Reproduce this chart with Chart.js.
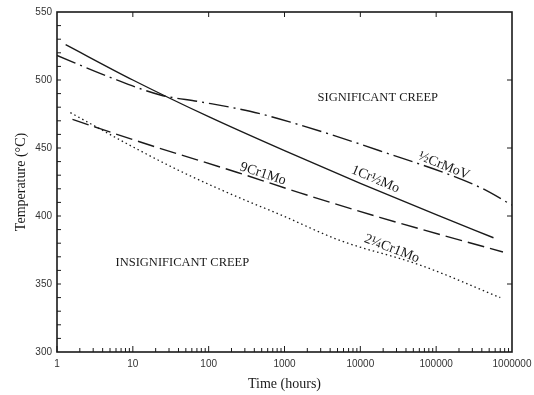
<!DOCTYPE html>
<html>
<head>
<meta charset="utf-8">
<script src="https://cdn.jsdelivr.net/npm/chart.js@4/dist/chart.umd.min.js"></script>
<style>
  html, body { margin: 0; padding: 0; background: #fff; }
  #wrap { width: 534px; height: 395px; }
</style>
</head>
<body>
<div id="wrap"><canvas id="chart" width="534" height="395"></canvas></div>
<script>
// values: time (hours) and temperature (°C)
const crMoVTime = [1, 5, 23, 77, 350, 1200, 18000, 380000, 1000000];
const crMoVTemp = [518, 502, 489, 484, 477, 469, 448, 421, 408];

const cr1MoTime = [1.3, 10, 100, 1000, 10000, 100000, 570000];
const cr1MoTemp = [526, 500, 473, 448, 424, 401, 384];

const cr9MoTime = [1.6, 17, 240, 1600, 18000, 760000];
const cr9MoTemp = [471, 452, 432, 417, 399, 373.5];

const cr2MoTime = [1.5, 12, 46, 240, 880, 5400, 61000, 700000];
const cr2MoTemp = [476, 448.5, 432, 414, 401, 382, 364, 340];

const xTicks = [1, 10, 100, 1000, 10000, 100000, 1000000];
const yTicks = [300, 350, 400, 450, 500, 550];

const pts = (xs, ys) => xs.map((v, i) => ({ x: v, y: ys[i] }));

// text written inside the plot
const notes = [
    { text: "SIGNIFICANT CREEP", x: 17000, y: 487, rot: 0, size: 12.5 },
    { text: "INSIGNIFICANT CREEP", x: 45, y: 366, rot: 0, size: 12.5 },
    { text: "9Cr1Mo", x: 520, y: 431, rot: 18, size: 14 },
    { text: "1Cr½Mo", x: 15800, y: 427, rot: 23, size: 14 },
    { text: "½CrMoV", x: 127000, y: 437, rot: 22, size: 14 },
    { text: "2¼Cr1Mo", x: 26000, y: 376, rot: 21, size: 14 }
];

const frameAndTicks = {
    id: "frameAndTicks",
    afterDraw(chart) {
        const { ctx, chartArea: a, scales: { x, y } } = chart;
        ctx.save();
        ctx.strokeStyle = "#1a1a1a";
        ctx.lineWidth = 1;
        ctx.beginPath();
        // bottom: minor ticks in each decade, decade ticks a bit taller
        for (let e = 0; e < 6; e++) {
            for (let m = 1; m <= 9; m++) {
                const px = x.getPixelForValue(m * Math.pow(10, e));
                const len = m === 1 ? 6 : 4;
                ctx.moveTo(px, a.bottom);
                ctx.lineTo(px, a.bottom - len);
            }
        }
        // top: decades only
        for (let e = 1; e < 6; e++) {
            const px = x.getPixelForValue(Math.pow(10, e));
            ctx.moveTo(px, a.top);
            ctx.lineTo(px, a.top + 5);
        }
        // left: every 10 degrees
        for (let t = 310; t < 550; t += 10) {
            const py = y.getPixelForValue(t);
            ctx.moveTo(a.left, py);
            ctx.lineTo(a.left + 4, py);
        }
        // right: majors
        for (let t = 350; t < 550; t += 50) {
            const py = y.getPixelForValue(t);
            ctx.moveTo(a.right, py);
            ctx.lineTo(a.right - 5, py);
        }
        ctx.stroke();
        ctx.lineWidth = 1.6;
        ctx.strokeRect(a.left, a.top, a.right - a.left, a.bottom - a.top);

        // labels
        ctx.fillStyle = "#1a1a1a";
        ctx.textAlign = "center";
        ctx.textBaseline = "middle";
        notes.forEach(n => {
            ctx.save();
            ctx.translate(x.getPixelForValue(n.x), y.getPixelForValue(n.y));
            ctx.rotate(n.rot * Math.PI / 180);
            ctx.font = n.size + "px 'Liberation Serif', 'Times New Roman', serif";
            ctx.fillText(n.text, 0, 0);
            ctx.restore();
        });
        ctx.restore();
    }
};

const lineStyle = {
    borderColor: "#1a1a1a",
    borderWidth: 1.4,
    pointRadius: 0,
    fill: false,
    cubicInterpolationMode: "monotone"
};

new Chart(document.getElementById("chart").getContext("2d"), {
    type: "line",
    data: {
        datasets: [
            { ...lineStyle, label: "½CrMoV", data: pts(crMoVTime, crMoVTemp), borderDash: [20, 5, 2, 5] },
            { ...lineStyle, label: "1Cr½Mo", data: pts(cr1MoTime, cr1MoTemp) },
            { ...lineStyle, label: "9Cr1Mo", data: pts(cr9MoTime, cr9MoTemp), borderDash: [17, 6] },
            { ...lineStyle, label: "2¼Cr1Mo", data: pts(cr2MoTime, cr2MoTemp), borderDash: [1.5, 3], borderWidth: 1.3 }
        ]
    },
    options: {
        responsive: false,
        animation: false,
        layout: { padding: { top: 12, right: 22, left: 0, bottom: 0 } },
        plugins: {
            legend: { display: false },
            tooltip: { enabled: false }
        },
        scales: {
            x: {
                type: "logarithmic",
                min: 1,
                max: 1000000,
                afterBuildTicks: s => { s.ticks = xTicks.map(v => ({ value: v })); },
                afterFit: s => { s.height = 43; s.paddingLeft = 0; s.paddingRight = 0; },
                grid: { display: false, drawTicks: false },
                border: { display: false },
                ticks: {
                    autoSkip: false,
                    maxRotation: 0,
                    padding: 6,
                    color: "#333",
                    font: { family: "'Liberation Sans', Arial, sans-serif", size: 10 },
                    callback: v => String(v)
                },
                title: {
                    display: true,
                    text: "Time (hours)",
                    color: "#1a1a1a",
                    padding: { top: 0, bottom: 2 },
                    font: { family: "'Liberation Serif', 'Times New Roman', serif", size: 14 }
                }
            },
            y: {
                min: 300,
                max: 550,
                afterBuildTicks: s => { s.ticks = yTicks.map(v => ({ value: v })); },
                afterFit: s => { s.width = 57; s.paddingTop = 0; s.paddingBottom = 0; },
                grid: { display: false, drawTicks: false },
                border: { display: false },
                ticks: {
                    padding: 5,
                    color: "#333",
                    font: { family: "'Liberation Sans', Arial, sans-serif", size: 10 }
                },
                title: {
                    display: true,
                    text: "Temperature (°C)",
                    color: "#1a1a1a",
                    padding: { top: 13, bottom: 0 },
                    font: { family: "'Liberation Serif', 'Times New Roman', serif", size: 14 }
                }
            }
        }
    },
    plugins: [frameAndTicks]
});
</script>
</body>
</html>
